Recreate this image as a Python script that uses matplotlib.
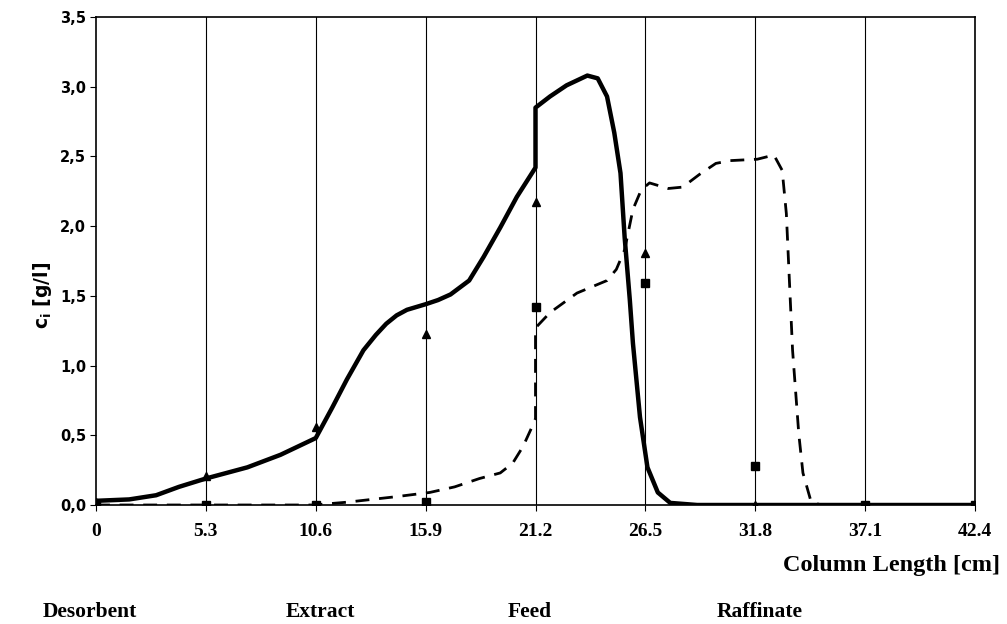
import matplotlib
matplotlib.use("Agg")
import matplotlib.pyplot as plt
from matplotlib.ticker import FixedLocator, FuncFormatter

# ---- data ----
x_ticks = [0, 5.3, 10.6, 15.9, 21.2, 26.5, 31.8, 37.1, 42.4]
x_tick_labels = ["0", "5.3", "10.6", "15.9", "21.2", "26.5", "31.8", "37.1", "42.4"]
y_ticks = [0.0, 0.5, 1.0, 1.5, 2.0, 2.5, 3.0, 3.5]

# simulated profile, component 1 (solid)
sim1_x = [0, 1.6, 2.9, 4.0, 5.3, 7.3, 8.9, 10.6, 11.4, 12.1, 12.9, 13.5, 14.0, 14.5, 15.0,
          15.9, 16.5, 17.1, 18.0, 18.7, 19.5, 20.3, 21.2, 21.2, 21.9, 22.7, 23.7, 24.2,
          24.65, 25.0, 25.3, 25.5, 25.75, 25.9, 26.24, 26.6, 27.1, 27.7, 29.0, 42.4]
sim1_y = [0.03, 0.04, 0.07, 0.13, 0.19, 0.27, 0.36, 0.48, 0.70, 0.90, 1.11, 1.22, 1.30, 1.36, 1.40,
          1.44, 1.47, 1.51, 1.61, 1.78, 1.99, 2.21, 2.42, 2.85, 2.93, 3.01, 3.08, 3.06,
          2.93, 2.67, 2.38, 1.92, 1.47, 1.16, 0.63, 0.27, 0.09, 0.015, 0.0, 0.0]

# simulated profile, component 2 (dashed)
sim2_x = [0, 10.5, 12.1, 14.5, 16.1, 17.3, 18.5, 19.5, 20.1, 20.6, 21.0, 21.2, 21.2, 21.9,
          23.2, 24.65, 25.1, 25.5, 25.9, 26.3, 26.7, 27.6, 28.3, 29.1, 29.9, 30.6, 31.9,
          32.7, 33.1, 33.3, 33.6, 33.9, 34.1, 34.5, 35.0, 42.4]
sim2_y = [0.0, 0.0, 0.02, 0.06, 0.09, 0.13, 0.19, 0.23, 0.30, 0.42, 0.55, 0.62, 1.27, 1.38,
          1.52, 1.61, 1.69, 1.83, 2.12, 2.26, 2.31, 2.27, 2.28, 2.37, 2.45, 2.47, 2.48,
          2.51, 2.40, 2.09, 1.11, 0.51, 0.23, 0.02, 0.0, 0.0]

# measured points
meas_x = [0, 5.3, 10.6, 15.9, 21.2, 26.5, 31.8, 37.1, 42.4]
meas1_y = [0.02, 0.21, 0.56, 1.23, 2.17, 1.81, 0.0, 0.0, 0.0]   # triangles
meas2_y = [0.0, 0.0, 0.0, 0.02, 1.42, 1.59, 0.28, 0.0, 0.0]     # squares

port_labels = ["Desorbent", "Extract", "Feed", "Raffinate"]
port_label_cx = [90, 320, 530, 760]  # pixel centres of the labels

# ---- figure ----
W, H = 1007, 624
fig = plt.figure(figsize=(W / 100, H / 100), dpi=100)
ax = fig.add_axes([96 / W, 1 - 505 / H, (975 - 96) / W, (505 - 17) / H])

for xv in x_ticks[1:]:
    ax.axvline(xv, color="black", lw=0.8, zorder=1)

ax.plot(sim1_x, sim1_y, color="black", lw=3.2, solid_joinstyle="round",
        solid_capstyle="round", zorder=3)
ax.plot(sim2_x, sim2_y, color="black", lw=2.0, dashes=(5, 3.5), zorder=3)
ax.plot(meas_x, meas1_y, linestyle="none", marker="^", color="black", markersize=6, zorder=4)
ax.plot(meas_x, meas2_y, linestyle="none", marker="s", color="black", markersize=6, zorder=4)

ax.set_xlim(0, 42.4)
ax.set_ylim(0, 3.5)

ax.xaxis.set_major_locator(FixedLocator(x_ticks))
ax.set_xticklabels(x_tick_labels, fontfamily="Liberation Serif", fontweight="bold", fontsize=14)
ax.yaxis.set_major_locator(FixedLocator(y_ticks))
ax.yaxis.set_major_formatter(FuncFormatter(lambda v, p: f"{v:.1f}".replace(".", ",")))
for lab in ax.get_yticklabels():
    lab.set_fontfamily("DejaVu Sans")
    lab.set_fontweight("bold")
    lab.set_fontsize(10.5)

ax.tick_params(axis="x", direction="out", length=4, width=0.8, pad=9)
ax.tick_params(axis="y", direction="out", length=4, width=0.8, pad=3)

for side in ["left", "bottom", "top", "right"]:
    ax.spines[side].set_linewidth(1.2)
    ax.spines[side].set_color("black")

fig.text(42 / W, 1 - 295 / H, r"$\mathbf{c_i}$ [g/l]", rotation=90, ha="center", va="center",
         fontfamily="DejaVu Sans", fontweight="bold", fontsize=13.5)
fig.text(1000 / W, 1 - 566 / H, "Column Length [cm]", ha="right", va="center",
         fontfamily="Liberation Serif", fontweight="bold", fontsize=17.5)

for lab, px in zip(port_labels, port_label_cx):
    fig.text(px / W, 1 - 612 / H, lab, ha="center", va="center",
             fontfamily="Liberation Serif", fontweight="bold", fontsize=15.5)

fig.savefig("out.png", dpi=100)
